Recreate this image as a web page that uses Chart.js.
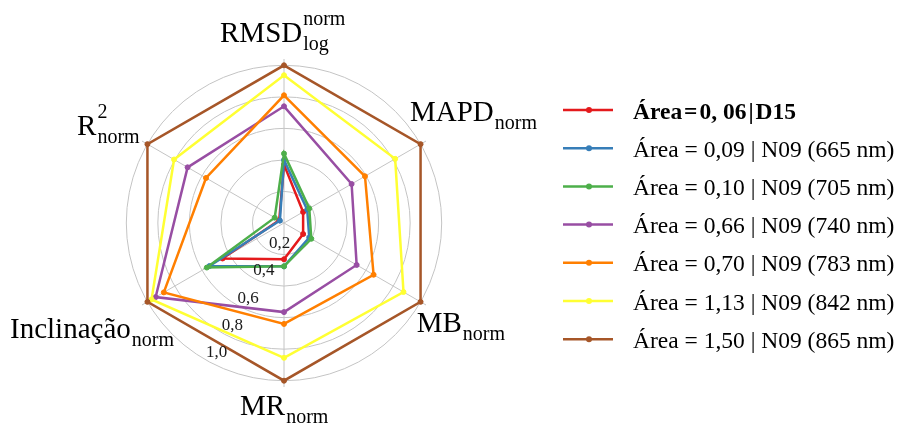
<!DOCTYPE html>
<html>
<head>
<meta charset="utf-8">
<script src="https://cdn.jsdelivr.net/npm/chart.js@4.4.1/dist/chart.umd.min.js"></script>
<style>
  html, body { margin: 0; padding: 0; background: #fff; }
  #wrap { width: 898px; height: 426px; }
</style>
</head>
<body>
<div id="wrap"><canvas id="radar" width="898" height="426"></canvas></div>
<script>
// axes, clockwise from the top
const axisNames = ['RMSD', 'MAPD', 'MB', 'MR', 'Inclinação', 'R'];
const axisSup = ['norm', '', '', '', '', '2'];
const axisSub = ['log', 'norm', 'norm', 'norm', 'norm', 'norm'];

const tickValues = [0.2, 0.4, 0.6, 0.8, 1.0];
const tickLabels = ['0,2', '0,4', '0,6', '0,8', '1,0'];

const seriesNames = [
  'Área\u200A=\u200A0, 06\u200A|\u200AD15',
  'Área = 0,09 | N09 (665 nm)',
  'Área = 0,10 | N09 (705 nm)',
  'Área = 0,66 | N09 (740 nm)',
  'Área = 0,70 | N09 (783 nm)',
  'Área = 1,13 | N09 (842 nm)',
  'Área = 1,50 | N09 (865 nm)'
];
const seriesColors = ['#e41a1c', '#377eb8', '#4daf4a', '#984ea3', '#ff7f00', '#ffff33', '#a65628'];

const d15 = [0.37, 0.14, 0.14, 0.23, 0.45, 0.035];
const n09_665 = [0.40, 0.17, 0.185, 0.275, 0.545, 0.03];
const n09_705 = [0.44, 0.185, 0.20, 0.275, 0.565, 0.068];
const n09_740 = [0.74, 0.495, 0.532, 0.565, 0.94, 0.706];
const n09_783 = [0.81, 0.593, 0.656, 0.64, 0.88, 0.571];
const n09_842 = [0.937, 0.814, 0.875, 0.855, 0.97, 0.805];
const n09_865 = [1.0, 1.0, 1.0, 1.0, 1.0, 1.0];
const seriesValues = [d15, n09_665, n09_705, n09_740, n09_783, n09_842, n09_865];

const serif = '"Liberation Serif", "Times New Roman", serif';

// label offsets (left, baseline) from each axis end point
const labelOffsets = [[-64, -23], [-10.6, -23.5], [-3.9, 30.5], [-44, 34.3], [-137.4, 36.5], [-70.4, -9]];

const labelPlugin = {
  id: 'radarText',
  afterDraw(chart) {
    const ctx = chart.ctx;
    const scale = chart.scales.r;
    ctx.save();

    // tick labels, running down-left between MR and Inclinação
    ctx.fillStyle = '#1a1a1a';
    ctx.font = '17px ' + serif;
    ctx.textAlign = 'center';
    ctx.textBaseline = 'middle';
    tickValues.forEach((v, i) => {
      const d = scale.getDistanceFromCenterForValue(v);
      ctx.fillText(tickLabels[i], scale.xCenter + 11.5 - 0.5 * d, scale.yCenter - 6.7 + 0.866 * d);
    });

    // axis titles with sub/superscripts
    ctx.textAlign = 'left';
    ctx.textBaseline = 'alphabetic';
    ctx.fillStyle = '#000';
    const rEnd = scale.getDistanceFromCenterForValue(1);
    axisNames.forEach((name, i) => {
      const p = scale.getPointPosition(i, rEnd);
      const x = p.x + labelOffsets[i][0];
      const y = p.y + labelOffsets[i][1];
      ctx.font = '29px ' + serif;
      ctx.fillText(name, x, y);
      const w = ctx.measureText(name).width + 1;
      ctx.font = '20px ' + serif;
      if (axisSup[i]) ctx.fillText(axisSup[i], x + w, y - 17);
      if (axisSub[i]) ctx.fillText(axisSub[i], x + w, y + 8);
    });

    // legend
    ctx.textBaseline = 'alphabetic';
    seriesNames.forEach((name, i) => {
      const y = 110 + i * 38.2;
      ctx.strokeStyle = seriesColors[i];
      ctx.lineWidth = 2.5;
      ctx.beginPath();
      ctx.moveTo(563, y);
      ctx.lineTo(613, y);
      ctx.stroke();
      ctx.fillStyle = seriesColors[i];
      ctx.beginPath();
      ctx.arc(589, y, 3, 0, Math.PI * 2);
      ctx.fill();
      ctx.fillStyle = '#000';
      ctx.font = (i === 0 ? 'bold ' : '') + '23.5px ' + serif;
      ctx.fillText(name, 633, y + 8.5);
    });
    ctx.restore();
  }
};

new Chart(document.getElementById('radar'), {
  type: 'radar',
  data: {
    labels: axisNames,
    datasets: seriesValues.map((vals, i) => ({
      label: seriesNames[i],
      data: vals,
      borderColor: seriesColors[i],
      backgroundColor: seriesColors[i],
      pointBackgroundColor: seriesColors[i],
      pointBorderColor: seriesColors[i],
      pointRadius: 2.5,
      pointBorderWidth: 1,
      borderWidth: 2.5,
      fill: false,
      tension: 0,
      order: seriesValues.length - i
    }))
  },
  options: {
    responsive: false,
    animation: false,
    devicePixelRatio: 1,
    layout: { padding: { left: 120, right: 449, top: 59, bottom: 38 } },
    plugins: {
      legend: { display: false },
      tooltip: { enabled: false }
    },
    scales: {
      r: {
        min: 0,
        max: 1.04,
        afterBuildTicks: (s) => {
          s.ticks = [0].concat(tickValues).map(v => ({ value: v }));
        },
        ticks: { display: false },
        pointLabels: { display: false },
        grid: { circular: true, color: '#c4c4c4', lineWidth: 1 },
        angleLines: { color: '#c4c4c4', lineWidth: 1 }
      }
    }
  },
  plugins: [labelPlugin]
});
</script>
</body>
</html>
